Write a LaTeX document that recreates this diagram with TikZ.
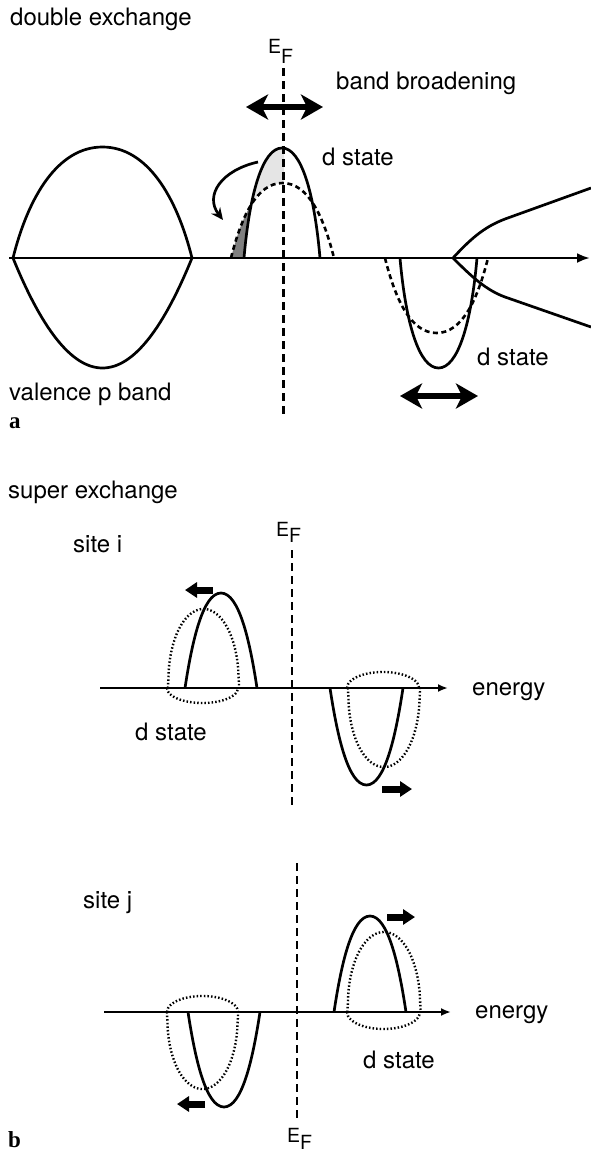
\documentclass[tikz,border=0pt]{standalone}
\usepackage{fontspec}
\setmainfont{TeX Gyre Heros}
\newfontfamily\panelfont{Liberation Serif}
\usetikzlibrary{arrows.meta}
% elliptic-like lobe: y = h (1-t^2)^q
\newcommand\domepath[5]{(#1-#2,#3) -- plot[domain=-1:1,samples=81,variable=\t] ({#1+#2*\t},{#3-(#4)*(max(1-\t*\t,0.00001))^(#5)}) -- (#1+#2,#3)}
% parabola lobe
\newcommand\parabpath[4]{(#1-#2,#3) -- plot[domain=-1:1,samples=81,variable=\t] ({#1+#2*\t},{#3-(#4)*(1-\t*\t)}) -- (#1+#2,#3)}
% arch lobe from two cubic halves: centre, half width, base, height, m, ms, d
\newcommand\archpath[7]{(#1-#2,#3) .. controls ({#1-#2*(1-(#5))},{#3-(#4)*(#6)}) and ({#1-#2*(#7)},{#3-(#4)}) .. (#1,{#3-(#4)}) .. controls ({#1+#2*(#7)},{#3-(#4)}) and ({#1+#2*(1-(#5))},{#3-(#4)*(#6)}) .. (#1+#2,#3)}
\begin{document}
\begin{tikzpicture}[x=1pt,y=-1pt,
  curve/.style={line width=2.7pt, line join=round},
  efline/.style={line width=2.4pt, dash pattern=on 8pt off 5pt},
  dashcurve/.style={line width=2.6pt, dash pattern=on 5pt off 3.5pt},
  dotcurve/.style={line width=2.4pt, dash pattern=on 1.5pt off 2.1pt},
  axisa/.style={line width=2.7pt, -{Latex[length=13pt,width=10pt]}},
  axisb/.style={line width=2.7pt, -{Latex[length=10pt,width=8pt]}},
  lbl/.style={anchor=base west, inner sep=0pt, font=\fontsize{24}{28}\selectfont},
  eflbl/.style={anchor=base west, inner sep=0pt, font=\fontsize{19.5}{22}\selectfont},
  panel/.style={anchor=base west, inner sep=0pt, font=\panelfont\bfseries\fontsize{23}{26}\selectfont},
  broad/.style={line width=6pt, {Stealth[length=22pt,width=25pt,inset=6pt]}-{Stealth[length=22pt,width=25pt,inset=6pt]}},
  shiftarrow/.style={line width=7pt, -{Triangle[length=12pt,width=15pt]}},
  bendarrow/.style={line width=2.7pt, -{Stealth[length=12pt,width=11pt]}}
]
\useasboundingbox (0,0) rectangle (591,1152);

% ---------------- part a ----------------
% fills
\begin{scope}
  \clip (0,0) rectangle (284,258);
  \clip \archpath{282}{38}{258}{110}{0.15}{0.6}{0.5};
  \fill[black!10, even odd rule] (0,0) rectangle (591,300) \archpath{282.5}{51.5}{258}{75}{0.2}{0.55}{0.5};
\end{scope}
\begin{scope}
  \clip (200,180) rectangle (262,258);
  \clip \archpath{282.5}{51.5}{258}{75}{0.2}{0.55}{0.5};
  \fill[black!50, even odd rule] (0,0) rectangle (591,300) \archpath{282}{38}{258}{110}{0.15}{0.6}{0.5};
\end{scope}

% valence p band
\draw[curve] \archpath{102.5}{89.5}{258}{111}{0.17}{0.55}{0.5};
\draw[curve] \parabpath{102.5}{89.5}{258}{-110};
% d states
\draw[curve] \archpath{282}{38}{258}{110}{0.15}{0.6}{0.5};
\draw[dashcurve] \archpath{282.5}{51.5}{258}{75}{0.2}{0.55}{0.5};
\draw[curve] \archpath{438.5}{38.5}{258}{-110}{0.15}{0.6}{0.5};
\draw[dashcurve] \archpath{436.5}{51.5}{258}{-75}{0.2}{0.55}{0.5};
% branching lines
\coordinate (br) at (453,258);
\coordinate (bru) at (591,188);
\coordinate (brd) at (591,327);
\draw[curve] (br) .. controls (474,235) and (487,226) .. (505,219) -- (bru);
\draw[curve] (br) .. controls (472,277) and (486,290) .. (505,297) -- (brd);
% axis
\coordinate (axa0) at (9,258);
\coordinate (axa1) at (590,258);
\draw[axisa] (axa0) -- (axa1);
% EF line
\coordinate (efa0) at (283.5,68);
\coordinate (efa1) at (283.5,415);
\draw[efline] (efa0) -- (efa1);
% arrows
\coordinate (bb0) at (246,107);
\coordinate (bb1) at (323,107);
\draw[broad] (bb0) -- (bb1);
\coordinate (lb0) at (400,396);
\coordinate (lb1) at (478,396);
\draw[broad] (lb0) -- (lb1);
\coordinate (cv0) at (258,162);
\coordinate (cv1) at (223,220);
\draw[bendarrow] (cv0) .. controls (222,170) and (204,195) .. (cv1);
% labels
\node[lbl] (t1) at (10,25) {double exchange};
\node[eflbl] (efla) at (268,53) {E\raisebox{-10pt}{F}};
\node[lbl] (t2) at (336,89) {band broadening};
\node[lbl] (t3) at (322,165) {d state};
\node[lbl] (t4) at (477,365) {d state};
\node[lbl] (t5) at (9,400) {valence p band};
\node[panel] (pa) at (9,428) {a};

% ---------------- part b, site i ----------------
\node[lbl] (t6) at (8,498) {super exchange};
\node[lbl] (t7) at (73,552) {site i};
\node[eflbl] (eflb) at (276,536) {E\raisebox{-6pt}{F}};
\coordinate (efb0) at (292,550);
\coordinate (efb1) at (292,805);
\draw[efline] (efb0) -- (efb1);
\draw[dotcurve] \domepath{203.5}{35.5}{688}{79}{0.45};
\draw[dotcurve] \domepath{202.5}{35.5}{688}{-15}{0.5};
\draw[dotcurve] \domepath{384}{36}{688}{-79}{0.45};
\draw[dotcurve] \domepath{383}{36}{688}{16}{0.5};
\draw[curve] \archpath{221}{36}{688}{95}{0.2}{0.5}{0.5};
\draw[curve] \archpath{366.5}{36.5}{688}{-97}{0.2}{0.5}{0.5};
\coordinate (axb0) at (100,688);
\coordinate (axb1) at (448,688);
\draw[axisb] (axb0) -- (axb1);
\node[lbl] (t8) at (472,695) {energy};
\node[lbl] (t9) at (135,740) {d state};
\coordinate (si0) at (213,590);
\coordinate (si1) at (185,590);
\draw[shiftarrow] (si0) -- (si1);
\coordinate (si2) at (382,789);
\coordinate (si3) at (412,789);
\draw[shiftarrow] (si2) -- (si3);

% ---------------- part b, site j ----------------
\node[lbl] (t10) at (83,908) {site j};
\coordinate (efc0) at (297,863);
\coordinate (efc1) at (297,1122);
\draw[efline] (efc0) -- (efc1);
\draw[dotcurve] \domepath{202.5}{35.5}{1012}{-77}{0.45};
\draw[dotcurve] \domepath{202.5}{35.5}{1012}{16}{0.5};
\draw[dotcurve] \domepath{384}{36.5}{1012}{80}{0.45};
\draw[dotcurve] \domepath{383.5}{36.5}{1012}{-17}{0.5};
\draw[curve] \archpath{224}{36}{1012}{-95}{0.2}{0.5}{0.5};
\draw[curve] \archpath{370}{36}{1012}{96}{0.2}{0.5}{0.5};
\coordinate (axc0) at (104,1012);
\coordinate (axc1) at (451,1012);
\draw[axisb] (axc0) -- (axc1);
\node[lbl] (t11) at (475,1018) {energy};
\node[lbl] (t12) at (363,1068) {d state};
\node[eflbl] (eflc) at (287,1142) {E\raisebox{-7pt}{F}};
\coordinate (sj0) at (387,917);
\coordinate (sj1) at (415,917);
\draw[shiftarrow] (sj0) -- (sj1);
\coordinate (sj2) at (205,1104);
\coordinate (sj3) at (177,1104);
\draw[shiftarrow] (sj2) -- (sj3);
\node[panel] (pb) at (8,1147) {b};
\end{tikzpicture}
\end{document}
